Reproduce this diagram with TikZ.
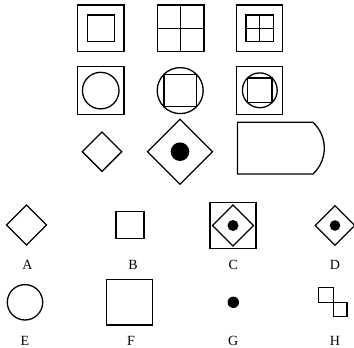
\documentclass[tikz,border=0pt]{standalone}
\usepackage{fontspec}
\setmainfont{Liberation Serif}
\begin{document}
\begin{tikzpicture}[x=1pt,y=-1pt,
  shp/.style={draw=black,line width=1.3pt,line join=miter},
  dot/.style={fill=black},
  lbl/.style={font=\fontsize{14}{14}\selectfont,inner sep=0pt}]
\useasboundingbox (0,0) rectangle (354,348);
% Row 1
\draw[shp] (77.3,5) rectangle (124,51.7);
\draw[shp] (87.3,15) rectangle (114.3,41.7);
\draw[shp] (157.3,5) rectangle (204,51.7);
\draw[shp] (180.7,5) -- (180.7,51.7);
\draw[shp] (157.3,28.4) -- (204,28.4);
\draw[shp] (236.7,5) rectangle (282.7,51.7);
\draw[shp] (246,15) rectangle (273.3,41.7);
\draw[shp] (259.7,15) -- (259.7,41.7);
\draw[shp] (246,28.4) -- (273.3,28.4);
% Row 2
\draw[shp] (77.3,66.7) rectangle (124,114.5);
\draw[shp] (100.7,90.6) circle[radius=18.3];
\draw[shp] (180.2,90.6) circle[radius=23];
\draw[shp] (164,74.4) rectangle (196.4,106.8);
\draw[shp] (236.7,66.7) rectangle (282.7,114.5);
\draw[shp] (259.8,90.3) circle[radius=17.4];
\draw[shp] (247.5,78) rectangle (272.1,102.6);
% Row 3
\draw[shp] (102,132) -- (121.7,151.7) -- (102,171.4) -- (82.3,151.7) -- cycle;
\draw[shp] (180,119.2) -- (212.5,151.7) -- (180,184.2) -- (147.5,151.7) -- cycle;
\fill[dot] (180,151.7) circle[radius=9.3];
\draw[shp] (313,122.3) arc[start angle=-47.3,end angle=47.3,radius=35.2] -- (237.5,174) -- (237.5,122.3) -- cycle;
% Row 4
\draw[shp] (26.5,205) -- (46.5,225) -- (26.5,245) -- (6.5,225) -- cycle;
\draw[shp] (116,211.7) rectangle (144,238.3);
\draw[shp] (210,202.3) rectangle (256,248.3);
\draw[shp] (233,205) -- (253.5,225.5) -- (233,246) -- (212.5,225.5) -- cycle;
\fill[dot] (233,225.5) circle[radius=5.5];
\draw[shp] (335,205.8) -- (354.7,225.5) -- (335,245.2) -- (315.3,225.5) -- cycle;
\fill[dot] (335,225.5) circle[radius=5.3];
\node[lbl] (A) at (27.5,264.8) {A};
\node[lbl] (B) at (133,264.8) {B};
\node[lbl] (C) at (233.3,264.8) {C};
\node[lbl] (D) at (335,264.8) {D};
% Row 5
\draw[shp] (25,302.3) circle[radius=17.7];
\draw[shp] (106.7,279.3) rectangle (152.7,325);
\fill[dot] (233.3,302.3) circle[radius=5.7];
\draw[shp] (318.5,287.5) rectangle (333.3,302.3);
\draw[shp] (333.3,302.3) rectangle (347,316.5);
\node[lbl] (E) at (25,341.2) {E};
\node[lbl] (F) at (131,341.2) {F};
\node[lbl] (G) at (233.3,341.2) {G};
\node[lbl] (H) at (335,341.2) {H};
\end{tikzpicture}
\end{document}
